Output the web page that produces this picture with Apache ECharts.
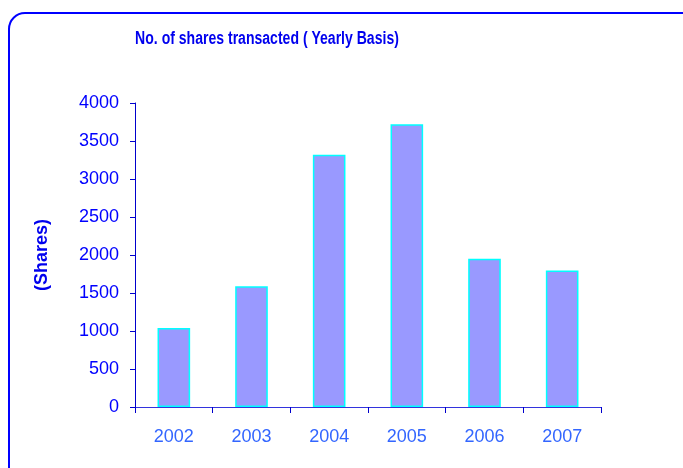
<!DOCTYPE html>
<html>
<head>
<meta charset="utf-8">
<script src="https://cdn.jsdelivr.net/npm/echarts@6/dist/echarts.min.js"></script>
<style>
  html, body { margin: 0; padding: 0; background: #fff; }
  #main { width: 683px; height: 468px; }
</style>
</head>
<body>
<div id="main"></div>
<script>
// data
var years = ['2002', '2003', '2004', '2005', '2006', '2007'];
var shares = [1040, 1590, 3320, 3720, 1950, 1795];
var yTicks = [0, 500, 1000, 1500, 2000, 2500, 3000, 3500, 4000];
var chartTitle = 'No. of shares transacted ( Yearly Basis)';

var myChart = echarts.init(document.getElementById('main'));
var option = {
    backgroundColor: '#fff',
    animation: false,
    graphic: [{
        type: 'rect',
        shape: { x: 9, y: 13, width: 700, height: 480, r: 16 },
        style: { fill: 'none', stroke: '#0000ff', lineWidth: 2 },
        z: -1
    }, {
        // title in a condensed bold face
        type: 'text',
        x: 267,
        y: 39,
        scaleX: 0.78,
        style: {
            text: chartTitle,
            font: 'bold 18px Arial',
            fill: '#0000ee',
            textAlign: 'center',
            textVerticalAlign: 'middle'
        }
    }],
    grid: { left: 135, right: 82, top: 103, bottom: 61 },
    xAxis: {
        type: 'category',
        data: years,
        axisLine: { lineStyle: { color: '#3333dd', width: 1 } },
        axisTick: { show: true, length: 6, lineStyle: { color: '#0000cc' } },
        axisLabel: { color: '#3366ff', fontFamily: 'Arial', fontSize: 18, margin: 21 }
    },
    yAxis: {
        type: 'value',
        min: yTicks[0],
        max: yTicks[yTicks.length - 1],
        interval: 500,
        name: '(Shares)',
        nameLocation: 'middle',
        nameGap: 84,
        nameRotate: 90,
        nameTextStyle: { color: '#0000ee', fontFamily: 'Arial', fontWeight: 'bold', fontSize: 18 },
        axisLine: { show: true, lineStyle: { color: '#0000cc', width: 1 } },
        axisTick: { show: true, length: 5, lineStyle: { color: '#0000cc' } },
        axisLabel: {
            color: '#0000ff', fontFamily: 'Arial', fontSize: 18, margin: 16,
            formatter: function (v) { return String(v); }
        },
        splitLine: { show: false }
    },
    series: [{
        type: 'bar',
        data: shares,
        barWidth: '42%',
        itemStyle: { color: '#9999ff', borderColor: '#00ffff', borderWidth: 1.5 }
    }]
};
myChart.setOption(option);
</script>
</body>
</html>
